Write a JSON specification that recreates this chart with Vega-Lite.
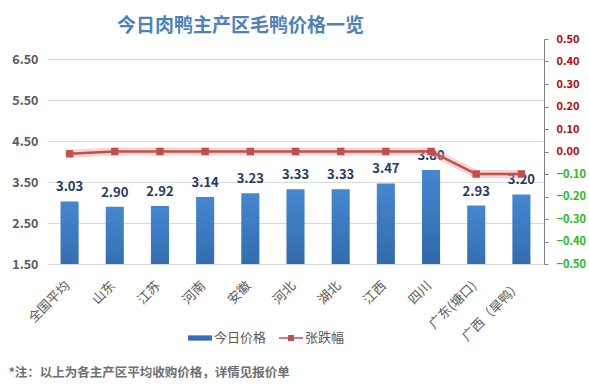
{
  "$schema": "https://vega.github.io/schema/vega-lite/v6.json",
  "width": 497,
  "height": 225,
  "autosize": {"type": "none"},
  "padding": {"left": 47, "top": 39, "right": 45, "bottom": 126},
  "background": "white",
  "config": {"font": "Noto Sans CJK SC", "view": {"stroke": null}},
  "title": {
    "text": "今日肉鸭主产区毛鸭价格一览",
    "fontSize": 19,
    "fontWeight": "bold",
    "color": "#4F81BD",
    "font": "Noto Sans CJK SC",
    "anchor": "middle",
    "frame": "group",
    "dx": -55,
    "dy": 27,
    "baseline": "alphabetic",
    "offset": 9
  },
  "data": {
    "values": [
      {"region": "全国平均", "price": 3.03, "change": -0.01},
      {"region": "山东", "price": 2.90, "change": 0.0},
      {"region": "江苏", "price": 2.92, "change": 0.0},
      {"region": "河南", "price": 3.14, "change": 0.0},
      {"region": "安徽", "price": 3.23, "change": 0.0},
      {"region": "河北", "price": 3.33, "change": 0.0},
      {"region": "湖北", "price": 3.33, "change": 0.0},
      {"region": "江西", "price": 3.47, "change": 0.0},
      {"region": "四川", "price": 3.80, "change": 0.0},
      {"region": "广东(塘口)", "price": 2.93, "change": -0.10},
      {"region": "广西（旱鸭）", "price": 3.20, "change": -0.10}
    ]
  },
  "encoding": {
    "x": {
      "field": "region",
      "type": "nominal",
      "sort": null,
      "scale": {"paddingInner": 0.6, "paddingOuter": 0.3},
      "axis": {
        "title": "*注：以上为各主产区平均收购价格，详情见报价单",
        "titleX": -39,
        "titleY": 108,
        "titleAlign": "left",
        "titleAnchor": "start",
        "titleBaseline": "middle",
        "titleFontSize": 12.5,
        "titleFontWeight": "bold",
        "titleColor": "#707070",
        "labelAngle": -45,
        "labelAlign": "right",
        "labelBaseline": "top",
        "labelFontSize": 13,
        "labelColor": "#595959",
        "labelPadding": 15,
        "labelOffset": -6,
        "ticks": false,
        "domain": false,
        "grid": false
      }
    }
  },
  "layer": [
    {
      "encoding": {
        "y": {
          "field": "price",
          "type": "quantitative",
          "scale": {"domain": [1.5, 7.0], "zero": false, "nice": false},
          "axis": {
            "title": null,
            "values": [1.5, 2.5, 3.5, 4.5, 5.5, 6.5],
            "format": ".2f",
            "labelFontSize": 12.5,
            "labelFontWeight": "bold",
            "labelColor": "#595959",
            "labelPadding": 9,
            "ticks": false,
            "domain": false,
            "grid": true,
            "gridColor": "#D9D9D9",
            "gridWidth": 1
          }
        }
      },
      "layer": [
        {
          "mark": {
            "type": "bar",
            "clip": true,
            "fill": {
              "gradient": "linear",
              "x1": 0, "y1": 0, "x2": 0, "y2": 1,
              "stops": [
                {"offset": 0, "color": "#4587D2"},
                {"offset": 1, "color": "#23558F"}
              ]
            }
          }
        },
        {
          "mark": {
            "type": "text",
            "baseline": "bottom",
            "dy": -7,
            "fontSize": 13,
            "fontWeight": "bold",
            "color": "#1F3864"
          },
          "encoding": {"text": {"field": "price", "type": "quantitative", "format": ".2f"}}
        }
      ]
    },
    {
      "encoding": {
        "y": {
          "field": "change",
          "type": "quantitative",
          "scale": {"domain": [-0.5, 0.5], "zero": false, "nice": false},
          "axis": {
            "orient": "right",
            "title": null,
            "values": [-0.5, -0.4, -0.3, -0.2, -0.1, 0, 0.1, 0.2, 0.3, 0.4, 0.5],
            "format": ".2f",
            "labelFontSize": 11,
            "labelFontWeight": "bold",
            "labelColor": {"condition": {"test": "datum.value < 0", "value": "#22BB22"}, "value": "#C00000"},
            "labelPadding": 8,
            "tickSize": 4,
            "tickColor": "#7F7F7F",
            "domainColor": "#7F7F7F",
            "grid": false
          }
        }
      },
      "layer": [
        {
          "mark": {"type": "line", "color": "#E8A09E", "strokeWidth": 8, "opacity": 0.45, "strokeCap": "round"}
        },
        {
          "mark": {"type": "line", "strokeWidth": 2.5},
          "encoding": {
            "color": {
              "datum": "张跌幅",
              "type": "nominal",
              "scale": {"domain": ["今日价格", "张跌幅"], "range": ["#3470BA", "#C0504D"]},
              "legend": {
                "orient": "none",
                "legendX": 141,
                "legendY": 287,
                "direction": "horizontal",
                "title": null,
                "labelFontSize": 13,
                "labelColor": "#595959",
                "symbolSize": 576,
                "columnPadding": 12,
                "labelOffset": 2,
                "encode": {
                  "symbols": {
                    "update": {
                      "shape": {"signal": "datum.value === '今日价格' ? 'M-1,-0.22H1V0.22H-1Z' : 'M-1,-0.06H1V0.06H-1Z M-0.25,-0.25H0.25V0.25H-0.25Z'"},
                      "fill": {"scale": "color", "field": "value"},
                      "stroke": {"value": "transparent"},
                      "strokeWidth": {"value": 0},
                      "opacity": {"value": 1}
                    }
                  }
                }
              }
            }
          }
        },
        {
          "mark": {"type": "point", "shape": "square", "filled": true, "size": 55, "color": "#C0504D", "opacity": 1}
        }
      ]
    }
  ],
  "resolve": {"scale": {"y": "independent"}}
}
